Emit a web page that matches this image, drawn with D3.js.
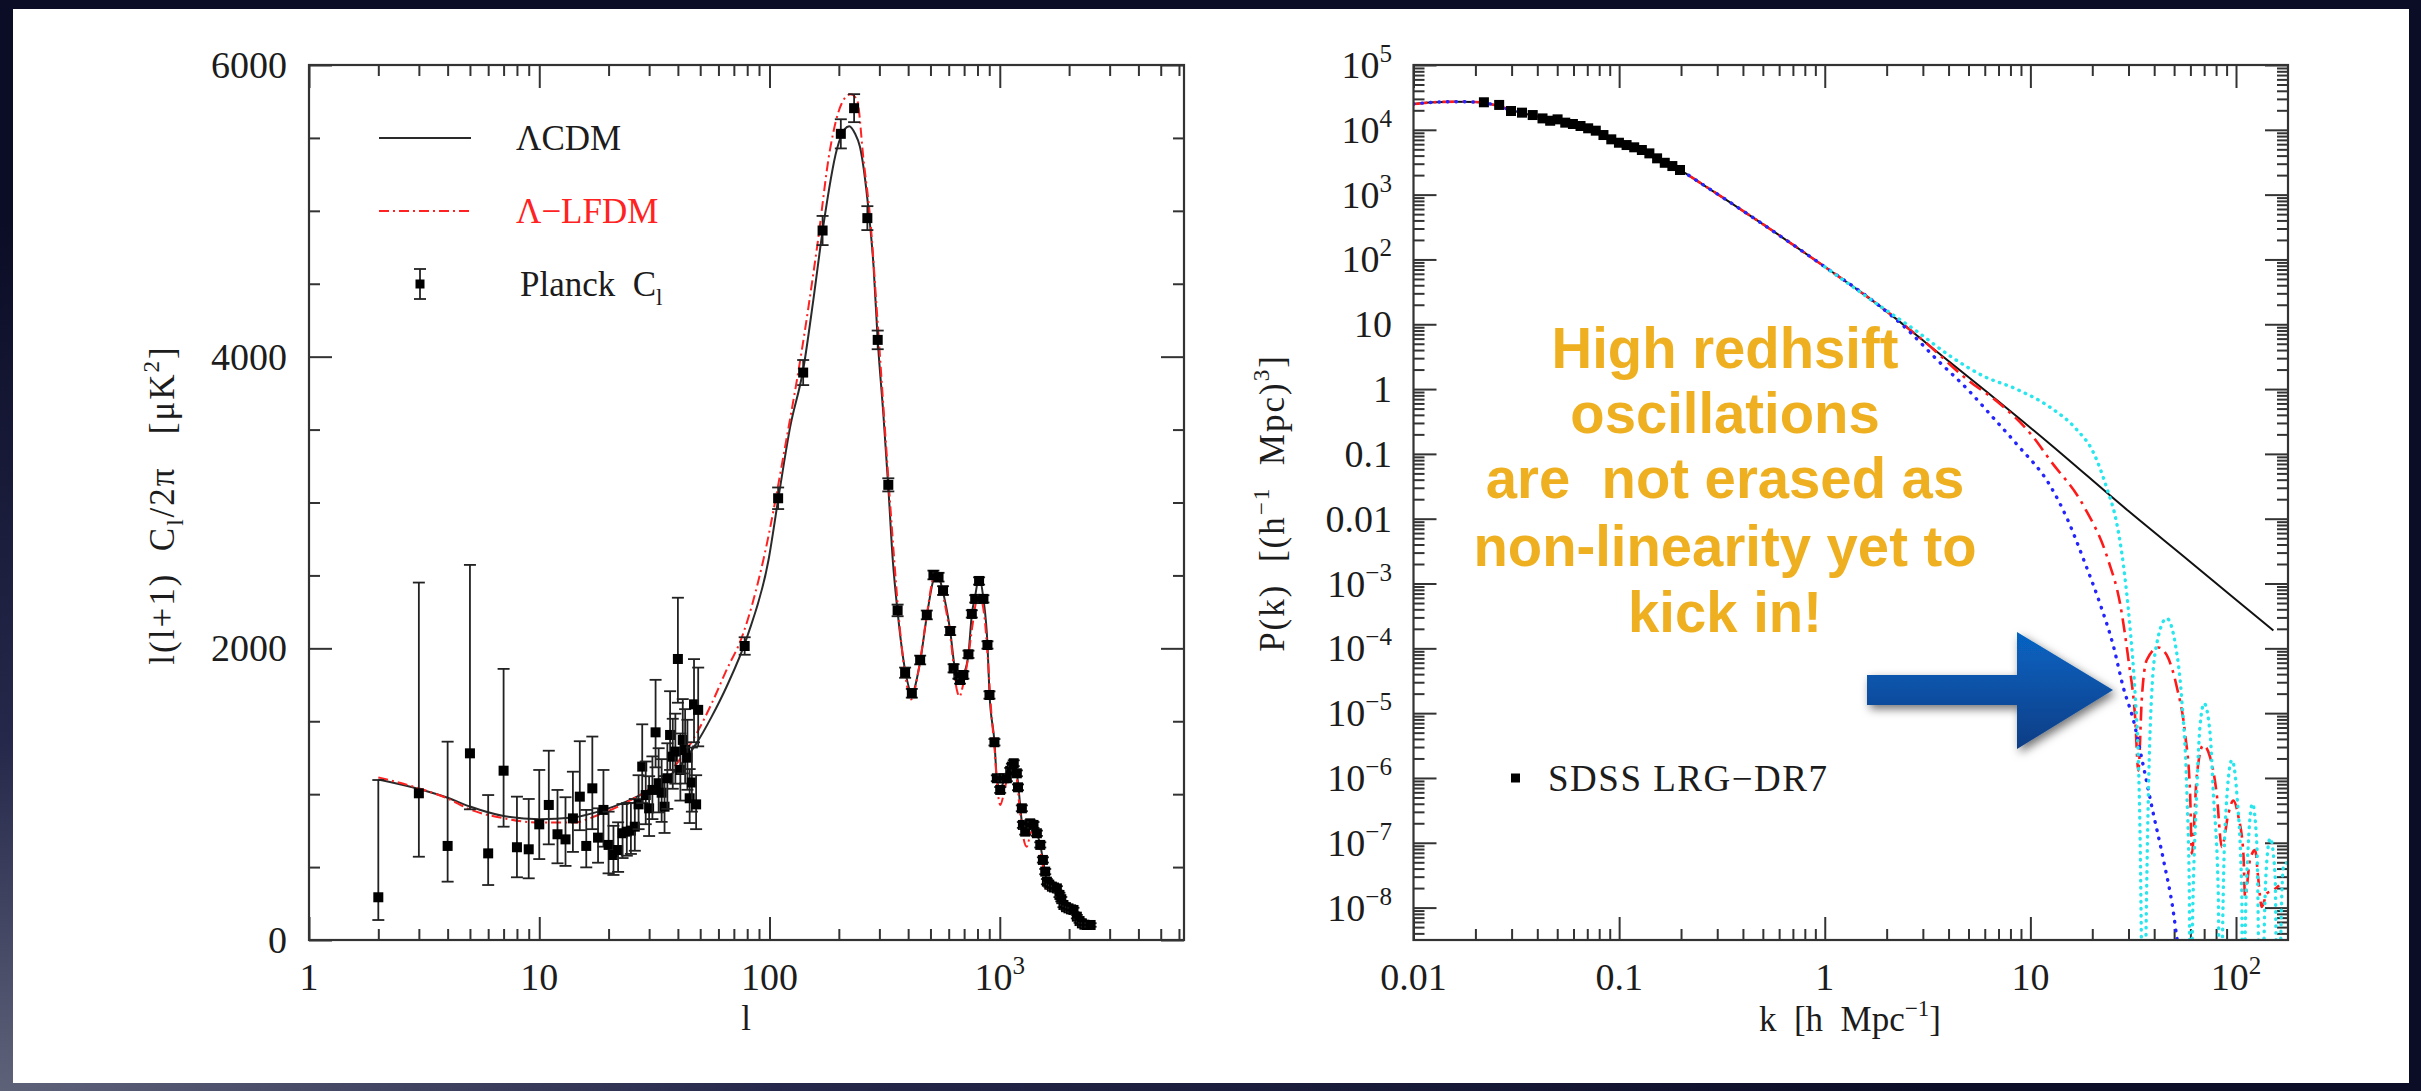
<!DOCTYPE html>
<html><head><meta charset="utf-8">
<script src="https://cdn.jsdelivr.net/npm/d3@7/dist/d3.min.js"></script>
<style>
html,body{margin:0;padding:0;background:#0d0f28;overflow:hidden}
svg{display:block}
text{font-family:"Liberation Serif","Times New Roman",serif;fill:#1c1c1c}
</style></head><body>
<svg id="chart" width="2421" height="1091"></svg>
<script>
// ---------------- DATA ----------------
// Left panel: CMB TT spectrum
const lcdmL = [2,3,4,5,7,10,14,18,24,30,40,48,56,65,80,99,110,123,140,155,171,196,212,222,235,247,269,283,295,312,328,343,360,388,415,450,482,515,535,560,609,640,668,700,731,756,782,813,849,884,902,948,971,1004,1040,1100,1140,1186,1220,1250,1300,1360,1400,1450,1500,1540,1600,1680,1770,1820,1890,1990,2090,2160,2270,2500];
const lcdmD = [1100,1035,975,915,850,828,840,880,950,1030,1180,1345,1530,1735,2080,2606,3060,3520,3910,4390,4890,5420,5560,5580,5530,5440,5010,4620,4115,3610,3105,2606,2250,1850,1695,1900,2220,2470,2520,2420,2120,1850,1785,1830,1960,2230,2360,2490,2340,2030,1690,1360,1110,1030,1090,1180,1215,1143,960,800,745,790,795,732,650,550,410,368,355,305,240,215,205,160,115,95];
const lfdmL = [2,3,4,5,7,10,14,18,24,30,40,48,56,65,76,94,119,136,161,183,206,225,240,256,274,293,313,334,348,365,390,412,445,480,518,535,560,610,650,668,695,731,760,800,830,860,890,915,950,975,1005,1040,1090,1130,1180,1220,1260,1309,1360,1410,1460,1510,1560,1610,1680,1760,1820,1900,2000,2090,2170,2280,2500];
const lfdmD = [1115,1040,970,895,835,805,805,857,945,1035,1220,1410,1620,1850,2080,2606,3452,3978,4755,5418,5738,5800,5761,5350,4938,4298,3635,2995,2606,2200,1800,1650,1860,2210,2500,2520,2400,2080,1720,1669,1760,1950,2150,2340,2330,2200,1900,1600,1300,1050,926,1000,1150,1200,1130,900,720,640,730,760,680,580,450,331,350,340,290,220,183,195,150,110,90];
const planckL = [2,3,4,5,6,7,8,9,10,11,12,13,14,15,16,17,18,19,20,21,22,23,24,25,26,27,28,29,30,31,32,33,34,35,36,37,38,39,40,41,42,43,44,45,46,47,48,49,
  78,109,140,170,204,233,266,295,328,360,388,415,451,482,515,542,567,609,630,661,672,695,731,756,782,813,849,884,902,948,971,1004,1039,1073,1110,1129,1150,1186,1200,1247,1260,1289,1355,1401,1449,1499,1539,1575,1602,1640,1684,1720,1770,1816,1850,1890,1940,1988,2040,2090,2161,2220,2273,2330,2389,2480];
const planckD = [293,1006,645,1280,594,1161,636,622,793,926,725,690,834,983,645,1040,702,892,652,583,617,732,743,750,777,930,1189,994,903,1029,1424,1075,1010,914,1109,1406,1257,1292,1927,1166,1372,1303,1250,972,1080,1616,930,1578,
  2016,3029,3891,4865,5528,5704,4950,4115,3121,2260,1833,1692,1920,2229,2503,2488,2396,2119,1863,1817,1783,1817,1959,2236,2339,2462,2339,2023,1680,1356,1109,1029,1109,1109,1160,1189,1212,1143,1047,903,789,743,800,789,732,652,549,469,400,380,366,360,354,309,280,240,225,217,210,206,160,130,114,105,103,103];
const lowErrLo = [156,435,245,384,217,384,206,199,238,270,199,182,230,230,147,280,172,252,195,137,150,170,165,160,165,170,250,200,190,200,240,200,200,180,210,240,220,220,300,210,230,230,220,170,200,260,170,250];
const lowErrHi = [804,1445,715,1292,400,698,347,345,373,372,304,289,320,380,247,355,201,274,228,200,190,200,195,190,190,200,290,230,220,230,360,240,230,210,240,300,260,260,420,250,280,280,260,200,240,310,200,290];
const highErr = [60,74,86,100,100,96,82,64,45,40,35,30,30,30,30,30,30,28,28,25,25,25,25,25,25,25,25,25,25,22,20,20,20,20,20,20,20,20,20,20,20,20,20,20,18,18,18,18,18,15,15,15,15,15,15,15,15,15,15,15,12,12,12,12,12,12];
const planckErrLo = lowErrLo.concat(highErr);
const planckErrHi = lowErrHi.concat(highErr);

// Right panel: matter power spectrum
const blackK = [0.01,0.0125,0.016,0.02,0.025,0.03,0.04,0.05,0.07,0.1,0.15,0.2,0.25,0.5,1,1.78,3.1,6.15,12.2,30,60,100,152];
const blackP = [25000,26600,27150,26800,24000,20000,16000,13800,10700,6400,3700,2350,1494,350,77,21,5.2,0.9,0.15,0.0131,2.15e-3,5.6e-4,1.88e-4];
const redK = [0.01,0.0125,0.016,0.02,0.025,0.03,0.04,0.05,0.07,0.1,0.15,0.2,0.25,0.5,1,1.78,3.1,5.0,7.08,10.3,12.5,18.1,23.9,27.3,30.0,32.3,33.5,34.8,36.8,42.0,46.0,51.5,56.5,59.8,61.0,64.4,69.3,74.8,80.5,85.3,91.8,97.0,102.8,108.6,110.7,116.9,123.9,128.5,133.4,141.3,152,162];
const redP = [25000,26600,27150,26800,24000,20000,16000,13800,10700,6400,3700,2350,1494,350,77,21,5.2,1.35,0.60,0.184,0.079,0.016,2.3e-3,4.9e-4,6.6e-5,8.8e-6,1.3e-6,1.6e-5,6.6e-5,1.03e-4,7.9e-5,2.55e-5,4.9e-6,5.8e-7,6.8e-8,1.04e-6,3.2e-6,2.1e-6,5.8e-7,8.6e-8,2.8e-7,4.5e-7,2.5e-7,6.8e-8,1.46e-8,5.4e-8,7.7e-8,2.65e-8,1.02e-8,1.65e-8,1.86e-8,2.2e-8];
const blueK = [0.01,0.0125,0.016,0.02,0.025,0.03,0.04,0.05,0.07,0.1,0.15,0.2,0.25,0.5,1,1.78,2.5,3.53,4.98,6.6,8.6,12.5,15.1,18.5,21.8,25.4,28.3,31.7,35.5,39.6,44.4,49.7,51.5,57.5];
const blueP = [25000,26600,27150,26800,24000,20000,16000,13800,10700,6400,3700,2350,1494,350,77,21,8.5,2.8,0.97,0.36,0.14,0.032,0.01,2.0e-3,4.9e-4,1.05e-4,2.5e-5,7.8e-6,1.48e-6,2.83e-7,5.4e-8,8.1e-9,3.5e-9,6e-10];
const cyanK = [1,1.78,2.8,4.06,5.9,8.6,12.5,16.8,20.2,23.5,26.3,28.3,30.5,32.3,33.5,34.1,34.8,35.5,36.3,37.5,38.9,41.2,46.0,50.6,54.5,57.7,59.3,60.0,60.9,64.4,66.8,70.0,74.8,77.6,82.0,83.6,85.5,88.5,95.5,100.9,106.7,108,110,114.8,120.2,126.2,133.4,136,141.3,146.6,154.9,160.7,164,170.2,179];
const cyanP = [77,21,7.8,3.25,1.59,0.99,0.52,0.237,0.107,0.030,8.5e-3,2.0e-3,2.15e-4,2.0e-5,1.9e-6,1.76e-7,1e-9,1e-12,1e-9,5.8e-7,2.0e-5,1.19e-4,2.9e-4,1.19e-4,1.58e-5,5.8e-7,1.66e-8,1e-12,1e-9,5.8e-7,6.2e-6,1.41e-5,4.9e-6,5.8e-7,1.66e-8,1e-12,1e-9,1.76e-7,1.88e-6,5.8e-7,1.66e-8,1e-12,1e-9,9.8e-8,4.0e-7,9.8e-8,1e-12,1e-9,5.4e-8,1.17e-7,3.2e-8,1e-12,1e-9,4.3e-8,5e-8];
const sdssK = [0.0220,0.0261,0.0298,0.0337,0.038,0.0424,0.0462,0.0502,0.0547,0.0596,0.0649,0.0707,0.077,0.0839,0.0916,0.0998,0.1087,0.1184,0.129,0.1403,0.153,0.1667,0.1815,0.1977];
const sdssP = [26600,24200,19500,18400,16900,15000,13800,14500,12900,12300,11450,10550,9700,8310,7130,6320,5820,5370,4880,4330,3630,3100,2760,2400];

// Tick labels
const leftYMajor = [0,2000,4000,6000];
const leftYLabels = [["0"],["2000"],["4000"],["6000"]];
const leftXMajor = [1,10,100,1000];
const leftXLabels = [["1"],["10"],["100"],["10","3"]];
const rightXMajor = [0.01,0.1,1,10,100];
const rightXLabels = [["0.01"],["0.1"],["1"],["10"],["10","2"]];
const rightYMajor = [1e5,1e4,1e3,1e2,10,1,0.1,0.01,1e-3,1e-4,1e-5,1e-6,1e-7,1e-8];
const rightYLabels = [["10","5"],["10","4"],["10","3"],["10","2"],["10"],["1"],["0.1"],["0.01"],["10","\u22123"],["10","\u22124"],["10","\u22125"],["10","\u22126"],["10","\u22127"],["10","\u22128"]];
const annotationLines = ["High redhsift","oscillations","are  not erased as","non-linearity yet to","kick in!"];

// ---------------- LAYOUT ----------------
const svg = d3.select("#chart");
const defs = svg.append("defs");
const bg = defs.append("radialGradient").attr("id","bgGrad").attr("cx","0%").attr("cy","100%").attr("r","80%");
bg.append("stop").attr("offset","0%").attr("stop-color","#5e6279");
bg.append("stop").attr("offset","40%").attr("stop-color","#25284a");
bg.append("stop").attr("offset","100%").attr("stop-color","#0b0d26");
svg.append("rect").attr("width",2421).attr("height",1091).attr("fill","url(#bgGrad)");
svg.append("rect").attr("x",13).attr("y",9).attr("width",2396).attr("height",1074).attr("fill","#ffffff");

const L = {x0:309,x1:1184,y0:65,y1:940};
const R = {x0:1413.5,x1:2288,y0:65,y1:940};
const xL = d3.scaleLog().domain([1,6310]).range([L.x0,L.x1]);
const yL = d3.scaleLinear().domain([0,6000]).range([L.y1,L.y0]);
const xR = d3.scaleLog().domain([0.01,179]).range([R.x0,R.x1]);
const yR = d3.scaleLog().domain([3.162e-9,1e5]).range([R.y1,R.y0]);

function clip(id,P){defs.append("clipPath").attr("id",id).append("rect").attr("x",P.x0).attr("y",P.y0).attr("width",P.x1-P.x0).attr("height",P.y1-P.y0);}
clip("clipL",L); clip("clipR",R);

function logMinor(a,b){const out=[];for(let e=Math.floor(Math.log10(a))-1;e<=Math.ceil(Math.log10(b));e++){for(let m=2;m<=9;m++){const v=m*Math.pow(10,e);if(v>=a*0.999&&v<=b*1.001)out.push(v);}}return out;}

function ticks(orient,scale,values,size,tx,ty){
  const ax = orient==="bottom"?d3.axisBottom(scale):orient==="top"?d3.axisTop(scale):orient==="left"?d3.axisLeft(scale):d3.axisRight(scale);
  ax.tickValues(values).tickSize(-size).tickSizeOuter(0).tickFormat(()=> "");
  const g = svg.append("g").attr("transform",`translate(${tx},${ty})`).call(ax);
  g.select(".domain").remove();
  g.selectAll("line").attr("stroke","#333").attr("stroke-width",2);
}

function richText(parent,x,y,parts,fs,anchor,extra){
  const t = parent.append("text").attr("x",x).attr("y",y).attr("font-size",fs).attr("text-anchor",anchor||"start").style("white-space","pre");
  if(extra) extra(t);
  let shift=0;
  parts.forEach(p=>{
    const s = typeof p==="string"?{t:p,k:"n"}:p;
    const ts = t.append("tspan").text(s.t);
    let target = 0, size = fs;
    if(s.k==="sup"){target=-fs*0.42;size=fs*0.66;}
    else if(s.k==="sub"){target=fs*0.25;size=fs*0.66;}
    ts.attr("font-size",size).attr("dy",target-shift);
    shift=target;
  });
  return t;
}

// ----- Left panel -----
ticks("bottom",xL,leftXMajor,23,0,L.y1);
ticks("bottom",xL,logMinor(1,6310),11,0,L.y1);
ticks("top",xL,leftXMajor,23,0,L.y0);
ticks("top",xL,logMinor(1,6310),11,0,L.y0);
const leftYMinor = d3.range(0,6001,500).filter(v=>leftYMajor.indexOf(v)<0);
ticks("left",yL,leftYMajor,23,L.x0,0);
ticks("left",yL,leftYMinor,11,L.x0,0);
ticks("right",yL,leftYMajor,23,L.x1,0);
ticks("right",yL,leftYMinor,11,L.x1,0);

const gl = svg.append("g").attr("clip-path","url(#clipL)");
const lineL = d3.line().x(d=>xL(d[0])).y(d=>yL(d[1])).curve(d3.curveMonotoneX);
gl.append("path").attr("d",lineL(lcdmL.map((l,i)=>[l,lcdmD[i]]))).attr("fill","none").attr("stroke","#2a2a2a").attr("stroke-width",2);
gl.append("path").attr("d",lineL(lfdmL.map((l,i)=>[l,lfdmD[i]]))).attr("fill","none").attr("stroke","#ff2222").attr("stroke-width",2).attr("stroke-dasharray","10,4,2,4");

const gp = svg.append("g");
planckL.forEach((l,i)=>{
  const x = xL(l), yT = yL(planckD[i]+planckErrHi[i]), yB = yL(planckD[i]-planckErrLo[i]);
  gp.append("line").attr("x1",x).attr("x2",x).attr("y1",yT).attr("y2",yB).attr("stroke","#222").attr("stroke-width",1.8);
  gp.append("line").attr("x1",x-6).attr("x2",x+6).attr("y1",yT).attr("y2",yT).attr("stroke","#222").attr("stroke-width",1.8);
  gp.append("line").attr("x1",x-6).attr("x2",x+6).attr("y1",yB).attr("y2",yB).attr("stroke","#222").attr("stroke-width",1.8);
  gp.append("rect").attr("x",x-5).attr("y",yL(planckD[i])-5).attr("width",10).attr("height",10).attr("fill","#000");
});
svg.append("rect").attr("x",L.x0).attr("y",L.y0).attr("width",L.x1-L.x0).attr("height",L.y1-L.y0).attr("fill","none").attr("stroke","#333").attr("stroke-width",2.2);

leftYMajor.forEach((v,i)=>richText(svg,287,yL(v)+13,[leftYLabels[i][0]],38,"end"));
leftXMajor.forEach((v,i)=>{const lb=leftXLabels[i];richText(svg,xL(v),990,lb.length>1?[lb[0],{t:lb[1],k:"sup"}]:[lb[0]],38,"middle");});

// legend left
svg.append("line").attr("x1",379).attr("x2",471).attr("y1",138).attr("y2",138).attr("stroke","#2a2a2a").attr("stroke-width",2);
richText(svg,516,150,["\u039BCDM"],35,"start");
svg.append("line").attr("x1",379).attr("x2",471).attr("y1",211).attr("y2",211).attr("stroke","#ff2222").attr("stroke-width",2).attr("stroke-dasharray","10,4,2,4");
richText(svg,516,223,["\u039B\u2212LFDM"],35,"start",t=>t.style("fill","#ff2222"));
svg.append("line").attr("x1",420).attr("x2",420).attr("y1",269).attr("y2",299).attr("stroke","#222").attr("stroke-width",1.8);
svg.append("line").attr("x1",414).attr("x2",426).attr("y1",269).attr("y2",269).attr("stroke","#222").attr("stroke-width",1.8);
svg.append("line").attr("x1",414).attr("x2",426).attr("y1",299).attr("y2",299).attr("stroke","#222").attr("stroke-width",1.8);
svg.append("rect").attr("x",415.5).attr("y",279.5).attr("width",9).attr("height",9).attr("fill","#000");
richText(svg,520,296,["Planck  C",{t:"l",k:"sub"}],35,"start");

// axis titles left
richText(svg,0,0,["l(l+1)  C",{t:"l",k:"sub"},"/2\u03C0   [\u03BCK",{t:"2",k:"sup"},"]"],35,"middle",t=>t.attr("transform","translate(174,505) rotate(-90)").attr("letter-spacing",2));
richText(svg,746,1030,["l"],35,"middle");

// ----- Right panel -----
ticks("bottom",xR,rightXMajor,23,0,R.y1);
ticks("bottom",xR,logMinor(0.01,179),11,0,R.y1);
ticks("top",xR,rightXMajor,23,0,R.y0);
ticks("top",xR,logMinor(0.01,179),11,0,R.y0);
ticks("left",yR,rightYMajor,23,R.x0,0);
ticks("left",yR,logMinor(3.162e-9,1e5),11,R.x0,0);
ticks("right",yR,rightYMajor,23,R.x1,0);
ticks("right",yR,logMinor(3.162e-9,1e5),11,R.x1,0);

const gr = svg.append("g").attr("clip-path","url(#clipR)");
const lineR = d3.line().x(d=>xR(d[0])).y(d=>yR(d[1])).curve(d3.curveMonotoneX);
gr.append("path").attr("d",lineR(blackK.map((k,i)=>[k,blackP[i]]))).attr("fill","none").attr("stroke","#111").attr("stroke-width",2);
gr.append("path").attr("d",lineR(redK.map((k,i)=>[k,redP[i]]))).attr("fill","none").attr("stroke","#ff1a1a").attr("stroke-width",2.6).attr("stroke-dasharray","14,6,3,6");
gr.append("path").attr("d",lineR(blueK.map((k,i)=>[k,blueP[i]]))).attr("fill","none").attr("stroke","#2424ff").attr("stroke-width",3.4).attr("stroke-linecap","round").attr("stroke-dasharray","0.5,8");
gr.append("path").attr("d",lineR(cyanK.map((k,i)=>[k,cyanP[i]]))).attr("fill","none").attr("stroke","#28e6ee").attr("stroke-width",3.4).attr("stroke-linecap","round").attr("stroke-dasharray","0.5,6.5");
sdssK.forEach((k,i)=>{gr.append("rect").attr("x",xR(k)-5).attr("y",yR(sdssP[i])-5).attr("width",10).attr("height",10).attr("fill","#000");});
svg.append("rect").attr("x",R.x0).attr("y",R.y0).attr("width",R.x1-R.x0).attr("height",R.y1-R.y0).attr("fill","none").attr("stroke","#333").attr("stroke-width",2.2);

rightYMajor.forEach((v,i)=>{const lb=rightYLabels[i];richText(svg,1392,yR(v)+13,lb.length>1?[lb[0],{t:lb[1],k:"sup"}]:[lb[0]],38,"end");});
rightXMajor.forEach((v,i)=>{const lb=rightXLabels[i];richText(svg,xR(v),990,lb.length>1?[lb[0],{t:lb[1],k:"sup"}]:[lb[0]],38,"middle");});

richText(svg,0,0,["P(k)  [(h",{t:"\u22121",k:"sup"},"  Mpc)",{t:"3",k:"sup"},"]"],35,"middle",t=>t.attr("transform","translate(1284,503) rotate(-90)").attr("letter-spacing",2));
richText(svg,1850,1031,["k  [h  Mpc",{t:"\u22121",k:"sup"},"]"],35,"middle");

// SDSS legend
svg.append("rect").attr("x",1511).attr("y",773.5).attr("width",9).attr("height",9).attr("fill","#000");
richText(svg,1548,791,["SDSS LRG\u2212DR7"],37,"start",t=>t.attr("letter-spacing",1.5));

// annotation
annotationLines.forEach((s,i)=>{
  const y = [368,433,498,566,632][i];
  svg.append("text").attr("x",0).attr("y",0).attr("text-anchor","middle")
    .attr("transform",`translate(1725,${y}) scale(0.97,1)`)
    .style("font-family","'Liberation Sans',Arial,sans-serif").style("font-weight","bold").style("font-size","58px")
    .style("fill","#eeb020").style("white-space","pre").text(s);
});

// arrow
const ag = defs.append("linearGradient").attr("id","arrowGrad").attr("x1","0").attr("y1","0").attr("x2","0").attr("y2","1");
ag.append("stop").attr("offset","0%").attr("stop-color","#0664c4");
ag.append("stop").attr("offset","100%").attr("stop-color","#0b3d85");
const fl = defs.append("filter").attr("id","shadow").attr("x","-20%").attr("y","-30%").attr("width","150%").attr("height","170%");
fl.append("feDropShadow").attr("dx",3).attr("dy",4).attr("stdDeviation",5).attr("flood-color","#000").attr("flood-opacity",0.55);
svg.append("polygon").attr("points","1867,675 2017,675 2017,632 2113,690 2017,749 2017,705 1867,705")
  .attr("fill","url(#arrowGrad)").attr("filter","url(#shadow)");
</script>
</body></html>
